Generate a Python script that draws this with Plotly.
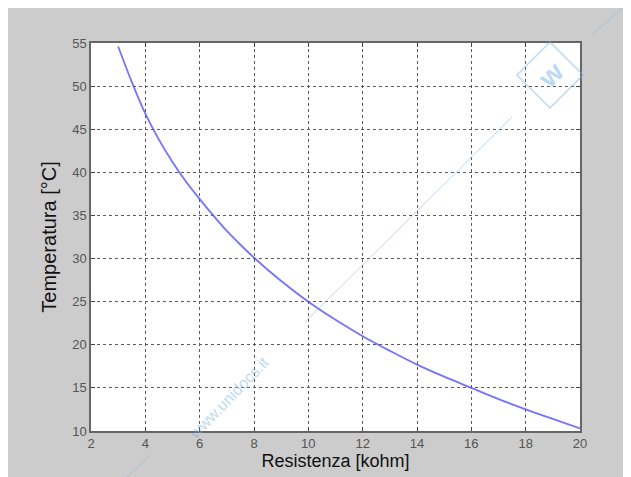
import plotly.graph_objects as go

resistance_kohm = [3, 3.5, 4, 4.5, 5, 5.5, 6, 6.5, 7, 7.5, 8, 9, 10, 11, 12, 13, 14, 15, 16, 17, 18, 19, 20]
temperature_c = [54.6, 50.5, 46.8, 43.8, 41.2, 38.9, 36.9, 35.0, 33.2, 31.6, 30.1, 27.4, 25.0, 22.9,
                 21.0, 19.3, 17.7, 16.3, 15.0, 13.7, 12.5, 11.4, 10.3]
x_ticks = [2, 4, 6, 8, 10, 12, 14, 16, 18, 20]
y_ticks = [10, 15, 20, 25, 30, 35, 40, 45, 50, 55]

W, H = 631, 477
OFF = 8  # page body margin
# plot area in page pixel coordinates
L, R, T, B = 91, 580, 43, 431
pw, ph = R - L, B - T

def px(x):
    return (x - L) / pw

def py(y):
    return (B - y) / ph

fig = go.Figure()
fig.add_trace(go.Scatter(x=resistance_kohm, y=temperature_c, mode="lines",
                         line=dict(color="rgba(80,80,255,0.8)", width=1.8, shape="spline"),
                         hoverinfo="skip"))

tickfont = dict(family="Liberation Sans Narrow, Arial Narrow, Liberation Sans, Arial", size=13, color="#555555")

axis_common = dict(showgrid=True, gridcolor="#5a5a5a", gridwidth=1, griddash="3px,3px",
                   showline=True, linecolor="#666666", linewidth=1.5, mirror="ticks",
                   ticks="inside", ticklen=4, tickcolor="#444444", tickwidth=1,
                   zeroline=False, tickfont=tickfont)

fig.update_xaxes(range=[2, 20], tickvals=x_ticks, ticktext=[str(v) for v in x_ticks],
                 title=dict(text="Resistenza [kohm]",
                            font=dict(family="Liberation Sans, Arial", size=18, color="#111111"),
                            standoff=3), **axis_common)
fig.update_yaxes(range=[10, 55], tickvals=y_ticks, ticktext=[str(v) for v in y_ticks],
                 title=dict(text="Temperatura [°C]",
                            font=dict(family="Liberation Sans, Arial", size=20, color="#111111"),
                            standoff=10), **axis_common)

wm = "rgba(120,180,230,0.5)"
cx, cy, d = 550, 75, 33
shapes = [
    dict(type="line", xref="paper", yref="paper", x0=px(127), y0=py(477), x1=px(150), y1=py(455),
         line=dict(color=wm, width=1)),
    dict(type="line", xref="paper", yref="paper", x0=px(305), y0=py(322), x1=px(512), y1=py(117),
         line=dict(color=wm, width=1)),
    dict(type="line", xref="paper", yref="paper", x0=px(592), y0=py(35), x1=px(631), y1=py(0),
         line=dict(color=wm, width=1)),
    dict(type="path", xref="paper", yref="paper",
         path=f"M {px(cx)},{py(cy - d)} L {px(cx + d)},{py(cy)} L {px(cx)},{py(cy + d)} L {px(cx - d)},{py(cy)} Z",
         line=dict(color=wm, width=1.5)),
]

annotations = [
    dict(text="www.unidocs.it", xref="paper", yref="paper", x=px(228), y=py(398),
         xanchor="center", yanchor="middle", showarrow=False, textangle=-46,
         font=dict(family="Liberation Sans, Arial", size=16, color="rgba(120,180,230,0.5)")),
    dict(text="<b>w</b>", xref="paper", yref="paper", x=px(cx), y=py(cy),
         xanchor="center", yanchor="middle", showarrow=False, textangle=-45,
         font=dict(family="Liberation Sans, Arial", size=28, color="rgba(120,180,230,0.5)")),
]

fig.update_layout(width=W, height=H,
                  margin=dict(l=L - OFF, r=W - (R - OFF), t=T - OFF, b=H - (B - OFF)),
                  paper_bgcolor="#cccccc", plot_bgcolor="#ffffff",
                  showlegend=False, shapes=shapes, annotations=annotations)

fig.write_html("out.html")
